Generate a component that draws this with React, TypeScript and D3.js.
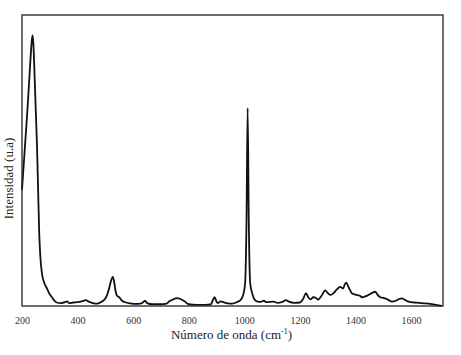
import React, { useRef, useEffect } from 'react';
import * as d3 from 'd3';

// wavenumber (cm-1) and intensity (arbitrary units)
const wavenumbers = [
  200, 205, 210, 215, 220, 225, 230, 235, 238, 241, 245, 250, 254, 258, 262, 266, 272, 280, 290, 300,
  308, 315, 325, 340, 355, 362, 370, 385, 400, 415, 430, 440, 455, 470, 485, 495, 505, 512, 520, 527,
  532, 537, 542, 550, 560, 575, 590, 610, 630, 643, 650, 670, 700, 720, 730, 745, 757, 770, 785, 800,
  830, 860, 880, 886, 893, 900, 905, 915, 925, 940, 955, 970, 985, 995, 1003, 1008, 1012, 1016, 1021, 1028,
  1035, 1045, 1060, 1070, 1080, 1090, 1105, 1120, 1135, 1150, 1160, 1180, 1200, 1212, 1222, 1230, 1238, 1248, 1256, 1266,
  1278, 1291, 1300, 1310, 1322, 1333, 1345, 1355, 1362, 1367, 1375, 1387, 1397, 1407, 1415, 1423, 1435, 1447, 1460, 1471,
  1480, 1489, 1500, 1507, 1520, 1531, 1545, 1557, 1567, 1580, 1591, 1610, 1627, 1650, 1669, 1690, 1711,
];
const intensities = [
  40, 47, 54, 61, 68, 76, 84, 91, 93, 90, 80, 66, 55, 40, 25, 17, 11, 8, 6, 4,
  3, 2, 1.2, 1, 1.3, 1.6, 1, 1.2, 1.3, 1.6, 2, 1.5, 1, 0.8, 1.4, 2, 3.5, 5.5, 8.5, 10,
  8, 5, 3.5, 3, 1.8, 1.2, 0.9, 0.7, 0.9, 1.8, 1, 0.6, 0.6, 0.8, 1.6, 2.3, 2.7, 2.4, 1.6, 0.6,
  0.4, 0.4, 0.6, 1.8, 3, 1.5, 1, 1.6, 1.3, 0.9, 0.8, 1.2, 1.9, 3.5, 8, 30, 68, 30, 8, 4.5,
  2.5, 1.6, 1.4, 1.8, 1.3, 1.4, 1.5, 1.1, 1.3, 2, 1.5, 1.1, 1.2, 2.5, 4.4, 3, 2.3, 3, 2.9, 2.2,
  3.5, 5.4, 4.5, 3.8, 4.5, 5.7, 6.6, 6, 7.5, 8, 6.5, 4.4, 4, 3.7, 3.6, 3, 3.3, 3.8, 4.5, 4.9,
  3.8, 3, 2.8, 2.6, 2, 1.5, 1.8, 2.4, 2.6, 2, 1.5, 1.2, 1.1, 0.9, 0.7, 0.4, 0,
];
const xTicks = [200, 400, 600, 800, 1000, 1200, 1400, 1600];

const serif = '"Liberation Serif", "Times New Roman", serif';

const App = () => {
  const Width = 461;
  const Height = 355;
  const margin = { top: 15, right: 18, bottom: 49, left: 22 };
  const chartWidth = Width - margin.left - margin.right;
  const chartHeight = Height - margin.top - margin.bottom;

  const xScale = d3.scaleLinear().domain([200, 1715]).range([0, chartWidth]);
  const yScale = d3.scaleLinear().domain([0, 100]).range([chartHeight, 0]);

  const points = wavenumbers.map((w, i) => [w, intensities[i]] as [number, number]);
  const line = d3
    .line<[number, number]>()
    .x((d) => xScale(d[0]))
    .y((d) => yScale(d[1]))
    .curve(d3.curveMonotoneX);

  const xAxisRef = useRef<SVGGElement>(null);
  useEffect(() => {
    const g = d3.select(xAxisRef.current);
    g.call(
      d3.axisBottom(xScale).tickValues(xTicks).tickFormat(d3.format('d') as any).tickSize(0).tickPadding(11) as any
    );
    g.select('.domain').remove();
    g.attr('font-family', serif).attr('font-size', 10);
    g.selectAll('text').attr('fill', '#333');
  }, []);

  return (
    <svg width={Width} height={Height} style={{ position: 'absolute', left: 0, top: 0, background: '#fff' }}>
      <g transform={`translate(${margin.left}, ${margin.top})`}>
        <path d={line(points) || ''} fill="none" stroke="#111" strokeWidth={1.8} strokeLinejoin="round" />
        <rect x={0} y={0} width={chartWidth} height={chartHeight} fill="none" stroke="#222" strokeWidth={1.3} />
        <g ref={xAxisRef} transform={`translate(0, ${chartHeight})`} />
        <text
          x={chartWidth / 2 - 1}
          y={chartHeight + 33}
          textAnchor="middle"
          fontFamily={serif}
          fontSize={13}
          fill="#222"
        >
          Número de onda (cm<tspan dy={-5} fontSize={8}>-1</tspan><tspan dy={5}>)</tspan>
        </text>
        <text
          transform={`translate(-9, ${chartHeight / 2 + 18}) rotate(-90)`}
          textAnchor="middle"
          fontFamily={serif}
          fontSize={13}
          fill="#222"
        >
          Intensidad (u.a)
        </text>
      </g>
    </svg>
  );
};

export default App;
